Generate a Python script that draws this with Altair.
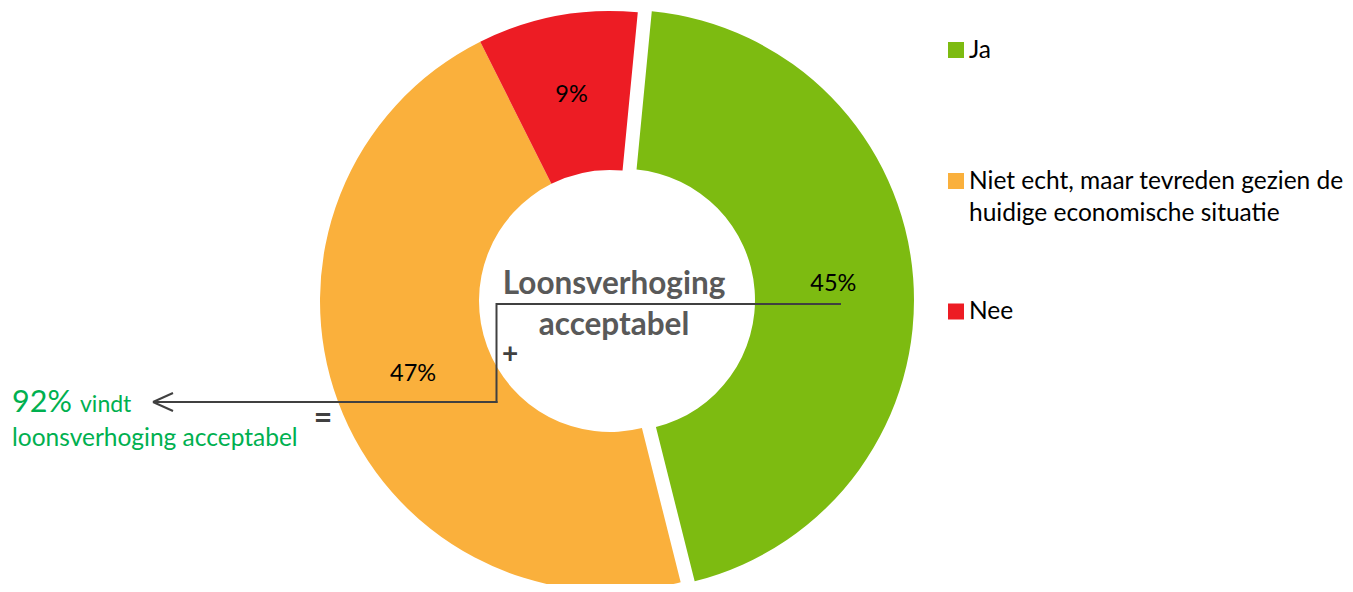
import math
import altair as alt
import pandas as pd

# ---------------- data ----------------
categories = ["Ja", "Niet echt, maar tevreden gezien de huidige economische situatie", "Nee"]
values = [45, 47, 9]
value_labels = ["45%", "47%", "9%"]
slice_order = [0, 1, 2]
colors = ["#7DBB11", "#FAB03C", "#ED1C24"]
legend_lines = [["Ja"], ["Niet echt, maar tevreden gezien de", "huidige economische situatie"], ["Nee"]]
center_title = ["Loonsverhoging", "acceptabel"]
total_big = "92%"
total_small = "vindt"
total_line2 = "loonsverhoging acceptabel"

df = pd.DataFrame({"cat": categories, "value": values, "label": value_labels, "order": slice_order})
one = pd.DataFrame({"k": [0]})

# ---------------- layout (page px -> plot px) ----------------
M = 8
def X(v):
    return v - M
def Y(v):
    return v - M

CX, CY = 610, 301
R_OUT, R_IN, R_LAB = 290, 131, 210
EXPL_DX, EXPL_DY = 14, -1
START = math.radians(5.5)
FONT = "Lato"
DARK = "#404040"
GREEN_TXT = "#00B050"

color_scale = alt.Scale(domain=categories, range=colors)
theta_scale = alt.Scale(domain=[0, sum(values)], range=[START, START + 2 * math.pi])

base = (
    alt.Chart(df)
    .transform_window(end="sum(value)", frame=[None, 0], sort=[alt.SortField("order")])
    .transform_calculate(start="datum.end - datum.value", mid="datum.end - datum.value / 2")
)


def arcs(expr, cx, cy):
    return base.transform_filter(expr).mark_arc(radius=R_OUT, radius2=R_IN).encode(
        theta=alt.Theta("start:Q", scale=theta_scale),
        theta2="end:Q",
        color=alt.Color("cat:N", scale=color_scale, legend=None),
        x=alt.value(X(cx)),
        y=alt.value(Y(cy)),
    )


def labels(expr, cx, cy):
    return base.transform_filter(expr).mark_text(
        radius=R_LAB, font=FONT, fontSize=23.5, color="black", baseline="middle", align="center"
    ).encode(
        theta=alt.Theta("mid:Q", scale=theta_scale),
        text="label:N",
        x=alt.value(X(cx)),
        y=alt.value(Y(cy)),
    )


layers = [
    arcs("datum.order != 0", CX, CY),
    arcs("datum.order == 0", CX + EXPL_DX, CY + EXPL_DY),
    labels("datum.order != 0", CX, CY),
    labels("datum.order == 0", CX + EXPL_DX, CY + EXPL_DY),
]

# centre title
layers.append(
    alt.Chart(one).mark_text(font=FONT, fontSize=31.5, fontWeight="bold", color="#595959",
                             align="center", baseline="alphabetic", lineHeight=41)
    .encode(x=alt.value(X(614)), y=alt.value(Y(294)), text=alt.value(center_title))
)


def seg(x1, y1, x2, y2):
    return alt.Chart(one).mark_rule(color=DARK, strokeWidth=2).encode(
        x=alt.value(X(x1)), y=alt.value(Y(y1)), x2=alt.value(X(x2)), y2=alt.value(Y(y2))
    )


# connector with arrow
layers += [
    seg(841, 304, 496.5, 304),
    seg(496.5, 303, 496.5, 403),
    seg(497.5, 402, 153, 402),
    seg(153, 402, 173, 393),
    seg(153, 402, 173, 411),
]

# + and =
layers.append(
    alt.Chart(one).mark_text(font=FONT, fontSize=28, fontWeight="bold", color=DARK, align="center", baseline="middle")
    .encode(x=alt.value(X(510)), y=alt.value(Y(355)), text=alt.value("+"))
)
layers.append(
    alt.Chart(one).mark_text(font=FONT, fontSize=32, fontWeight="bold", color=DARK, align="center", baseline="middle")
    .encode(x=alt.value(X(323)), y=alt.value(Y(419)), text=alt.value("="))
)

# left annotation
layers.append(
    alt.Chart(one).mark_text(font=FONT, fontSize=30.5, color=GREEN_TXT, align="left", baseline="alphabetic")
    .encode(x=alt.value(X(12)), y=alt.value(Y(412)), text=alt.value(total_big))
)
layers.append(
    alt.Chart(one).mark_text(font=FONT, fontSize=23, color=GREEN_TXT, align="left", baseline="alphabetic")
    .encode(x=alt.value(X(80)), y=alt.value(Y(412)), text=alt.value(total_small))
)
layers.append(
    alt.Chart(one).mark_text(font=FONT, fontSize=24.5, color=GREEN_TXT, align="left", baseline="alphabetic")
    .encode(x=alt.value(X(12)), y=alt.value(Y(446)), text=alt.value(total_line2))
)

# legend
legend_sym_y = [50, 181, 311.5]
legend_txt_y = [58, 189, 319]
for i in range(len(categories)):
    layers.append(
        alt.Chart(one).mark_square(size=256, opacity=1, filled=True)
        .encode(x=alt.value(X(956)), y=alt.value(Y(legend_sym_y[i])), color=alt.value(colors[i]))
    )
    layers.append(
        alt.Chart(one).mark_text(font=FONT, fontSize=24.5, color="black", align="left", baseline="alphabetic", lineHeight=32)
        .encode(x=alt.value(X(969)), y=alt.value(Y(legend_txt_y[i])), text=alt.value(legend_lines[i]))
    )

chart = (
    alt.layer(*layers)
    .properties(width=1337, height=576, autosize=alt.AutoSizeParams(type="none"), padding=0)
    .configure_view(stroke=None)
)

chart.save("out.html", embed_options={"renderer": "svg", "actions": False})
